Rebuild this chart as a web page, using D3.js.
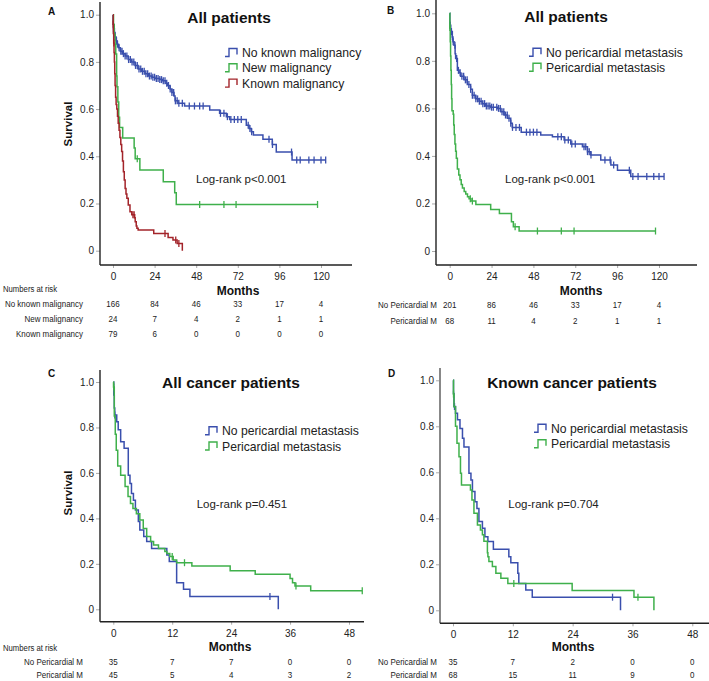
<!DOCTYPE html>
<html><head><meta charset="utf-8">
<script src="https://cdn.jsdelivr.net/npm/d3@7"></script>
<style>body{margin:0;background:#fff}svg{display:block;font-family:"Liberation Sans",Arial,sans-serif}</style>
</head><body><svg id="c" width="709" height="681"></svg>
<script>
// ---------- DATA ----------
const monthTicksAB = [0, 24, 48, 72, 96, 120];
const monthTicksCD = [0, 12, 24, 36, 48];
const survivalTicks = [0, 0.2, 0.4, 0.6, 0.8, 1.0];

// Panel A
const aNoKnown = [[0,1],[0.05,0.96],[0.3,0.94],[0.8,0.925],[1.2,0.905],[1.8,0.89],[2.3,0.875],[3.2,0.86],[4.2,0.845],[5.5,0.835],[7,0.825],[8.8,0.81],[10.5,0.80],[12.7,0.785],[14.5,0.77],[16.5,0.76],[18.5,0.75],[20.4,0.74],[22.5,0.735],[24.2,0.73],[27,0.725],[28.5,0.72],[30.5,0.71],[31.5,0.70],[32.9,0.685],[34,0.67],[35.2,0.655],[35.8,0.635],[37.5,0.625],[41.3,0.613],[55.8,0.596],[61.5,0.582],[65.4,0.568],[67.3,0.556],[76.9,0.532],[78.5,0.518],[79.8,0.504],[81,0.49],[86.5,0.472],[91.9,0.45],[94.2,0.418],[103.3,0.384],[122.7,0.384]];
const aNoKnownCens = [0.3,0.7,1.2,2,2.6,3.5,4.5,5.2,6,7,8,9,10,11,12,13,14,15,16,17,18,19,20,21,22,23,24,25,26,27,28,29,30,31,32,33,34,35,36,37,38,40,44,47,50,52,62,64,66,68,70,72,74,78,79,80,90,92,103,106,108,113,116,120,122.7];
const aNew = [[0,1],[0.3,0.958],[0.7,0.917],[1.2,0.875],[1.6,0.833],[2.1,0.74],[2.3,0.695],[2.8,0.63],[3.3,0.565],[3.8,0.522],[5.6,0.478],[12.2,0.435],[12.8,0.39],[15.5,0.342],[29,0.292],[35.6,0.246],[36.5,0.196],[118,0.196]];
const aNewCens = [14, 50, 64, 71, 118];
const aKnown = [[0,1],[0.1,0.96],[0.2,0.92],[0.4,0.88],[0.6,0.84],[0.8,0.80],[1.0,0.75],[1.2,0.70],[1.5,0.65],[1.8,0.62],[2.2,0.60],[2.6,0.57],[3.0,0.54],[3.5,0.51],[4.0,0.48],[4.5,0.45],[5.0,0.42],[5.5,0.38],[6.0,0.335],[6.5,0.30],[7.0,0.264],[7.5,0.24],[8.0,0.222],[8.8,0.194],[9.8,0.165],[10.8,0.152],[12.5,0.14],[12.8,0.123],[13.4,0.105],[13.8,0.095],[14.5,0.088],[23.5,0.073],[31.8,0.056],[34.6,0.045],[37,0.031],[40,0]];
const aKnownCens = [0.15, 0.5, 11.5, 12.2, 30, 36.2, 38];

// Panel B
const bNoPeri = [[0,1],[0.1,0.95],[0.6,0.923],[1.5,0.90],[1.9,0.88],[2.5,0.866],[3.1,0.83],[3.4,0.81],[4.4,0.76],[5.4,0.75],[6.3,0.735],[8.2,0.72],[10.1,0.70],[12,0.68],[13,0.655],[14.9,0.64],[16.8,0.63],[18.7,0.62],[20.6,0.61],[23.5,0.605],[27.3,0.60],[29.3,0.586],[31.2,0.572],[33.1,0.558],[35,0.537],[35.9,0.52],[41,0.50],[52.2,0.488],[58.9,0.481],[65.6,0.467],[69.4,0.45],[76.1,0.439],[79,0.418],[80.9,0.404],[86.6,0.383],[92.4,0.362],[96.2,0.34],[103.8,0.313],[122.9,0.313]];
const bNoPeriCens = [0.1,0.3,0.6,1,1.5,2,3,4,5,6,7,8,9,10,11,12,13,14,15,16,17,18,19,20,21,22,23,24,25,27,28,29,30,31,32,33,34,35,36,38,40,44,46,48,50,62,64,66,68,70,72,77,78,79,80,81,89,92,94,103,105,108,113,117,120,122.9];
const bPeri = [[0,1],[0.1,0.94],[0.3,0.88],[0.5,0.82],[0.7,0.76],[0.9,0.70],[1.1,0.64],[1.3,0.59],[2,0.575],[2.3,0.53],[2.6,0.49],[3,0.45],[3.4,0.42],[3.8,0.39],[4.4,0.345],[5.2,0.32],[5.9,0.30],[6.6,0.28],[7.3,0.265],[8.3,0.25],[9.2,0.24],[10.2,0.228],[11.1,0.22],[12.2,0.21],[15,0.196],[23.5,0.175],[28.5,0.158],[35.4,0.123],[36.5,0.102],[39.8,0.084],[118,0.084]];
const bPeriCens = [0.1, 11.8, 13, 37.5, 50.3, 64, 71.3, 118];

// Panel C
const cNoPeri = [[0,1],[0.1,0.943],[0.2,0.886],[0.3,0.855],[0.7,0.825],[1.0,0.79],[1.5,0.737],[2.2,0.708],[3.05,0.59],[3.4,0.554],[3.7,0.51],[4.1,0.48],[4.5,0.437],[5.1,0.386],[5.4,0.349],[6.2,0.32],[6.8,0.298],[7.8,0.268],[10.9,0.239],[11.4,0.21],[12.9,0.117],[14.3,0.088],[15.6,0.056],[33.6,0]];
const cNoPeriCens = [0.3, 31.9];
const cPeri = [[0,1],[0.05,0.978],[0.2,0.85],[0.4,0.77],[0.6,0.70],[0.9,0.63],[1.5,0.59],[2.4,0.54],[3,0.496],[3.5,0.466],[4,0.444],[4.7,0.42],[5.4,0.393],[6.1,0.356],[6.8,0.32],[7.6,0.298],[8.2,0.283],[9.2,0.268],[10.5,0.254],[10.9,0.246],[11.5,0.232],[12.2,0.217],[12.9,0.205],[16,0.19],[23.8,0.17],[28.9,0.154],[36,0.136],[36.5,0.117],[37,0.103],[40.2,0.082],[50.7,0.082]];
const cPeriCens = [0.1, 12, 14.5, 37.2, 50.7];

// Panel D
const dNoPeri = [[0,1],[0.1,0.943],[0.2,0.886],[0.5,0.857],[0.9,0.828],[1.4,0.79],[1.9,0.748],[2.2,0.71],[3.2,0.596],[3.6,0.567],[3.9,0.516],[4.4,0.472],[4.8,0.443],[5.2,0.386],[5.9,0.357],[6.4,0.32],[7,0.299],[8.1,0.265],[11.2,0.233],[11.6,0.207],[13,0.161],[13.2,0.117],[14.6,0.088],[15.9,0.057],[33.6,0]];
const dNoPeriCens = [0.3, 32];
const dPeri = [[0,1],[0.1,0.94],[0.2,0.885],[0.5,0.80],[0.8,0.726],[1.2,0.668],[1.5,0.596],[1.7,0.545],[3.5,0.523],[3.8,0.48],[4.2,0.422],[4.9,0.371],[5.5,0.349],[5.9,0.328],[6.2,0.30],[6.9,0.25],[7.0,0.233],[7.2,0.212],[7.9,0.19],[8.6,0.161],[9.6,0.139],[11,0.117],[23.9,0.086],[36.3,0.057],[40.3,0]];
const dPeriCens = [0.1, 12.2, 37.1];

// Numbers at risk
const riskLabelsA = ["No known malignancy", "New malignancy", "Known malignancy"];
const riskA = [[166,84,46,33,17,4],[24,7,4,2,1,1],[79,6,0,0,0,0]];
const riskLabelsPeri = ["No Pericardial M", "Pericardial M"];
const riskB = [[201,86,46,33,17,4],[68,11,4,2,1,1]];
const riskC = [[35,7,7,0,0],[45,5,4,3,2]];
const riskD = [[35,7,2,0,0],[68,15,11,9,0]];

const legendA = ["No known malignancy", "New malignancy", "Known malignancy"];
const legendPeri = ["No pericardial metastasis", "Pericardial metastasis"];

// ---------- DRAWING ----------
const BLUE = "#3a4fad", GREEN = "#3fb04b", RED = "#a3242a";
const svg = d3.select("#c");

function survAt(series, t) {
  let s = series[0][1];
  for (const p of series) { if (p[0] <= t + 1e-9) s = p[1]; else break; }
  return s;
}

function narrowText(g, x, y, str, anchor, size) {
  g.append("text").attr("transform", `translate(${x},${y}) scale(0.86,1)`)
    .attr("text-anchor", anchor).attr("font-size", size).attr("fill", "#222").text(str);
}

function panel(cfg) {
  const g = svg.append("g");
  const x = d3.scaleLinear().domain(cfg.xDomain).range(cfg.xRange);
  const y = d3.scaleLinear().domain([0, 1]).range(cfg.yRange);

  const ya = d3.axisLeft(y).tickValues(survivalTicks).tickSize(4).tickPadding(2)
    .tickFormat(d => d === 0 ? "0" : d3.format(".1f")(d));
  const yg = g.append("g").attr("transform", `translate(${cfg.axisX},0)`).call(ya);
  yg.select(".domain").remove();
  yg.selectAll("line").attr("stroke", "#aaa");
  yg.selectAll("text").attr("font-size", 10).attr("fill", "#222").attr("font-family", "Liberation Sans, Arial, sans-serif");

  const xa = d3.axisBottom(x).tickValues(cfg.xTicks).tickSize(3).tickPadding(5);
  const xg = g.append("g").attr("transform", `translate(0,${cfg.axisY})`).call(xa);
  xg.select(".domain").remove();
  xg.selectAll("line").attr("stroke", "#aaa");
  xg.selectAll("text").attr("font-size", 10).attr("fill", "#222").attr("font-family", "Liberation Sans, Arial, sans-serif");

  g.append("line").attr("x1", cfg.axisX).attr("x2", cfg.axisX).attr("y1", cfg.axisTop).attr("y2", cfg.axisY)
    .attr("stroke", cfg.yAxisColor || "#222").attr("stroke-width", cfg.yAxisWidth || 1.4);
  g.append("line").attr("x1", cfg.axisX).attr("x2", cfg.axisRight).attr("y1", cfg.axisY).attr("y2", cfg.axisY)
    .attr("stroke", "#222").attr("stroke-width", 1.4);

  const line = d3.line().x(d => x(d[0])).y(d => y(d[1])).curve(d3.curveStepAfter);
  cfg.series.forEach(s => {
    g.append("path").attr("d", line(s.data)).attr("fill", "none").attr("stroke", s.color).attr("stroke-width", 1.5);
    g.selectAll(null).data(s.cens).enter().append("line")
      .attr("x1", d => x(d)).attr("x2", d => x(d))
      .attr("y1", d => y(survAt(s.data, d)) - 3.5).attr("y2", d => y(survAt(s.data, d)) + 3.5)
      .attr("stroke", s.color).attr("stroke-width", 1.3);
  });

  g.append("text").attr("x", cfg.letter[0]).attr("y", cfg.letter[1]).text(cfg.letter[2])
    .attr("font-size", 10).attr("font-weight", "bold").attr("fill", "#111");
  g.append("text").attr("x", cfg.title[0]).attr("y", cfg.title[1]).text(cfg.title[2])
    .attr("text-anchor", "middle").attr("font-size", 15.5).attr("font-weight", "bold").attr("fill", "#111");

  cfg.series.forEach((s, i) => {
    const ly = cfg.legend[1] + i * cfg.legend[2];
    const lx = cfg.legend[0];
    g.append("path").attr("d", `M${lx},${ly + 4}H${lx + 4}V${ly - 4}H${lx + 12}V${ly + 2}`)
      .attr("fill", "none").attr("stroke", s.color).attr("stroke-width", 1.4);
    g.append("text").attr("x", lx + 17).attr("y", ly + 4.5).text(s.name).attr("font-size", 12.2).attr("fill", "#222");
  });

  g.append("text").attr("x", cfg.logrank[0]).attr("y", cfg.logrank[1]).text(cfg.logrank[2])
    .attr("font-size", 11.5).attr("fill", "#222");

  g.append("text").attr("x", cfg.months[0]).attr("y", cfg.months[1]).text("Months")
    .attr("text-anchor", "middle").attr("font-size", 12).attr("font-weight", "bold").attr("fill", "#111");
  if (cfg.surv) {
    g.append("text").attr("transform", `translate(${cfg.surv[0]},${cfg.surv[1]}) rotate(-90)`).text("Survival")
      .attr("text-anchor", "middle").attr("font-size", 11.5).attr("font-weight", "bold").attr("fill", "#111");
  }

  if (cfg.riskHeader) narrowText(g, 3, cfg.riskHeader, "Numbers at risk", "start", 9);
  cfg.risk.forEach((row, i) => {
    const ry = cfg.riskY[0] + i * cfg.riskY[1];
    narrowText(g, cfg.riskLabelX, ry, cfg.riskLabels[i], "end", 9.3);
    row.forEach((v, j) => narrowText(g, x(cfg.xTicks[j]), ry, v, "middle", 9.3));
  });
}

panel({
  xDomain: [0, 120], xRange: [113, 321], yRange: [250.7, 14.7], xTicks: monthTicksAB,
  axisX: 100, axisY: 265, axisTop: 2, axisRight: 352,
  series: [
    { name: legendA[0], data: aNoKnown, cens: aNoKnownCens, color: BLUE },
    { name: legendA[1], data: aNew, cens: aNewCens, color: GREEN },
    { name: legendA[2], data: aKnown, cens: aKnownCens, color: RED }],
  letter: [48, 15, "A"], title: [229, 23, "All patients"],
  legend: [225, 52.5, 15.3], logrank: [196, 183, "Log-rank p<0.001"],
  months: [238, 295], surv: [72, 124],
  riskHeader: 292, riskLabels: riskLabelsA, risk: riskA, riskLabelX: 83, riskY: [306.5, 15]
});

panel({
  xDomain: [0, 120], xRange: [449.7, 659], yRange: [251, 13.3], xTicks: monthTicksAB,
  axisX: 436, axisY: 265, axisTop: 0, axisRight: 697,
  series: [
    { name: legendPeri[0], data: bNoPeri, cens: bNoPeriCens, color: BLUE },
    { name: legendPeri[1], data: bPeri, cens: bPeriCens, color: GREEN }],
  letter: [387, 14, "B"], title: [566, 22, "All patients"],
  legend: [529, 52.3, 15], logrank: [505, 183, "Log-rank p<0.001"],
  months: [581, 295], surv: null,
  riskHeader: null, riskLabels: riskLabelsPeri, risk: riskB, riskLabelX: 437, riskY: [307.5, 16]
});

panel({
  xDomain: [0, 48], xRange: [113.3, 349], yRange: [609.3, 382], xTicks: monthTicksCD,
  axisX: 100, axisY: 621.7, axisTop: 370, axisRight: 364,
  series: [
    { name: legendPeri[0], data: cNoPeri, cens: cNoPeriCens, color: BLUE },
    { name: legendPeri[1], data: cPeri, cens: cPeriCens, color: GREEN }],
  letter: [48, 377, "C"], title: [231, 388, "All cancer patients"],
  legend: [205, 430.7, 15.3], logrank: [196.7, 508, "Log-rank p=0.451"],
  months: [230, 651], surv: [72, 493],
  riskHeader: 650.5, riskLabels: riskLabelsPeri, risk: riskC, riskLabelX: 83, riskY: [665, 13]
});

panel({
  xDomain: [0, 48], xRange: [453, 692.3], yRange: [610.3, 380.3], xTicks: monthTicksCD,
  axisX: 440, axisY: 623.3, axisTop: 368, axisRight: 709, yAxisColor: "#888", yAxisWidth: 2,
  series: [
    { name: legendPeri[0], data: dNoPeri, cens: dNoPeriCens, color: BLUE },
    { name: legendPeri[1], data: dPeri, cens: dPeriCens, color: GREEN }],
  letter: [388, 377, "D"], title: [572, 388, "Known cancer patients"],
  legend: [534, 428.3, 15.4], logrank: [508.3, 508, "Log-rank p=0.704"],
  months: [573, 651], surv: null,
  riskHeader: null, riskLabels: riskLabelsPeri, risk: riskD, riskLabelX: 437, riskY: [665, 13]
});
</script></body></html>
